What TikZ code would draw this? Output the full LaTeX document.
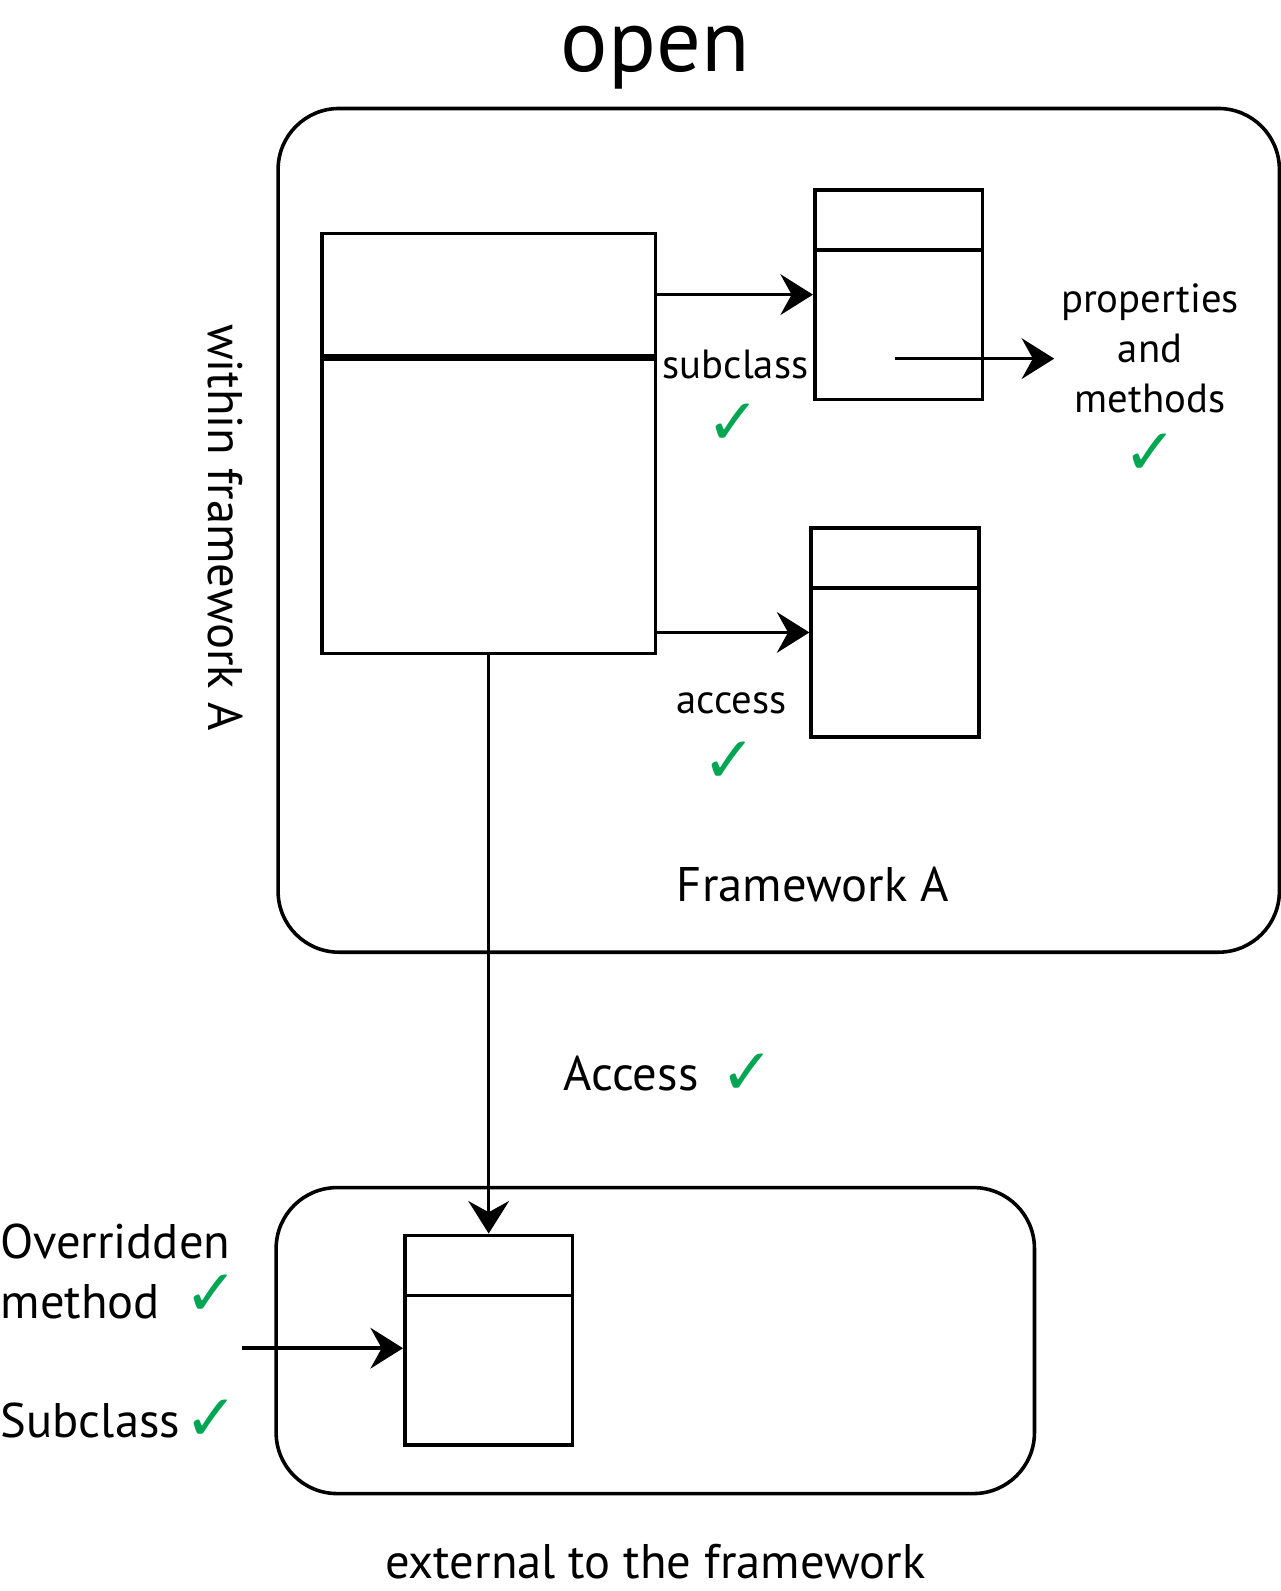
\documentclass[tikz,border=0pt]{standalone}
\usepackage{fontspec}
\setmainfont{PT Sans}
\newfontfamily\symfont{DejaVu Sans}
\usetikzlibrary{arrows.meta}
\definecolor{okgreen}{RGB}{0,166,81}

\begin{document}
\begin{tikzpicture}[x=0.01cm, y=-0.01cm]
\tikzset{cls/.style={rectangle, draw=black, line width=1pt, minimum width=1.65cm, minimum height=2.06cm, inner sep=0pt},
f/.style={-{Stealth[length=3.2mm, width=4mm, inset=1.1mm]}, line width=1pt},
frame/.style={draw=black, line width=1pt, rounded corners=0.6cm, inner sep=0pt},
lbl/.style={inner sep=0pt, font=\fontsize{11.4}{14}\selectfont},
big/.style={inner sep=0pt, font=\fontsize{13.6}{17}\selectfont},
ok/.style={inner sep=0pt, text=okgreen, font=\symfont\bfseries\fontsize{18}{20}\selectfont}}

\useasboundingbox (0,0) rectangle (1260,1566);

\node[inner sep=0pt, font=\fontsize{24.8}{30}\selectfont] (title) at (645,57) {open};

\node[frame, minimum width=9.85cm, minimum height=8.3cm] (fwA) at (766.5,522) {};
\node[frame, minimum width=7.46cm, minimum height=3.01cm] (outside) at (645,1319.5) {};

\node[cls, minimum width=3.28cm, minimum height=4.13cm] (main) at (481,436.5) {};
\draw[line width=2pt] ([yshift=-1.24cm]main.north west) -- ([yshift=-1.24cm]main.north east);

\node[cls] (sub) at (884.5,290) {};
\node[cls] (acc) at (881,622.5) {};
\node[cls] (ext) at (481,1319) {};

\foreach \b in {sub, acc, ext} {
	\draw[line width=1pt] ([yshift=-0.61cm]\b.north west) -- ([yshift=-0.61cm]\b.north east);
}

\draw[f] (main.east |- sub.west) -- (sub.west);
\draw[f] (main.east |- acc.west) -- (acc.west);
\draw[f] (main.south) -- (ext.north);

\node[lbl, align=center] (props) at (1132,343) {properties\\and\\methods};
\coordinate (pm) at (881,353);
\draw[f] (pm) -- ([xshift=-0.06cm]props.west |- pm);

\coordinate (in) at (238,1327);
\draw[f] (in) -- (in -| ext.west);

\node[lbl] (subl) at (724,359) {subclass};
\node[ok] (subok) at (722,418) {✓};
\node[ok] (propsok) at (1132,447) {✓};
\node[lbl] (accl) at (720,692) {access};
\node[ok] (accok) at (718,750) {✓};
\node[big] (fwAl) at (800,871) {Framework A};
\node[big, rotate=-90] (within) at (222,519) {within framework A};
\node[big] (Accl) at (621,1057) {Access};
\node[ok] (Accok) at (736,1057) {✓};
\node[big, anchor=west] (over) at (0,1222) {Overridden};
\node[big, anchor=west] (meth) at (0,1281) {method};
\node[ok] (methok) at (208,1275) {✓};
\node[big, anchor=west] (subcl) at (0,1398) {Subclass};
\node[ok] (subclok) at (208,1398) {✓};
\node[big] (extl) at (645,1537) {external to the framework};

\end{tikzpicture}
\end{document}
